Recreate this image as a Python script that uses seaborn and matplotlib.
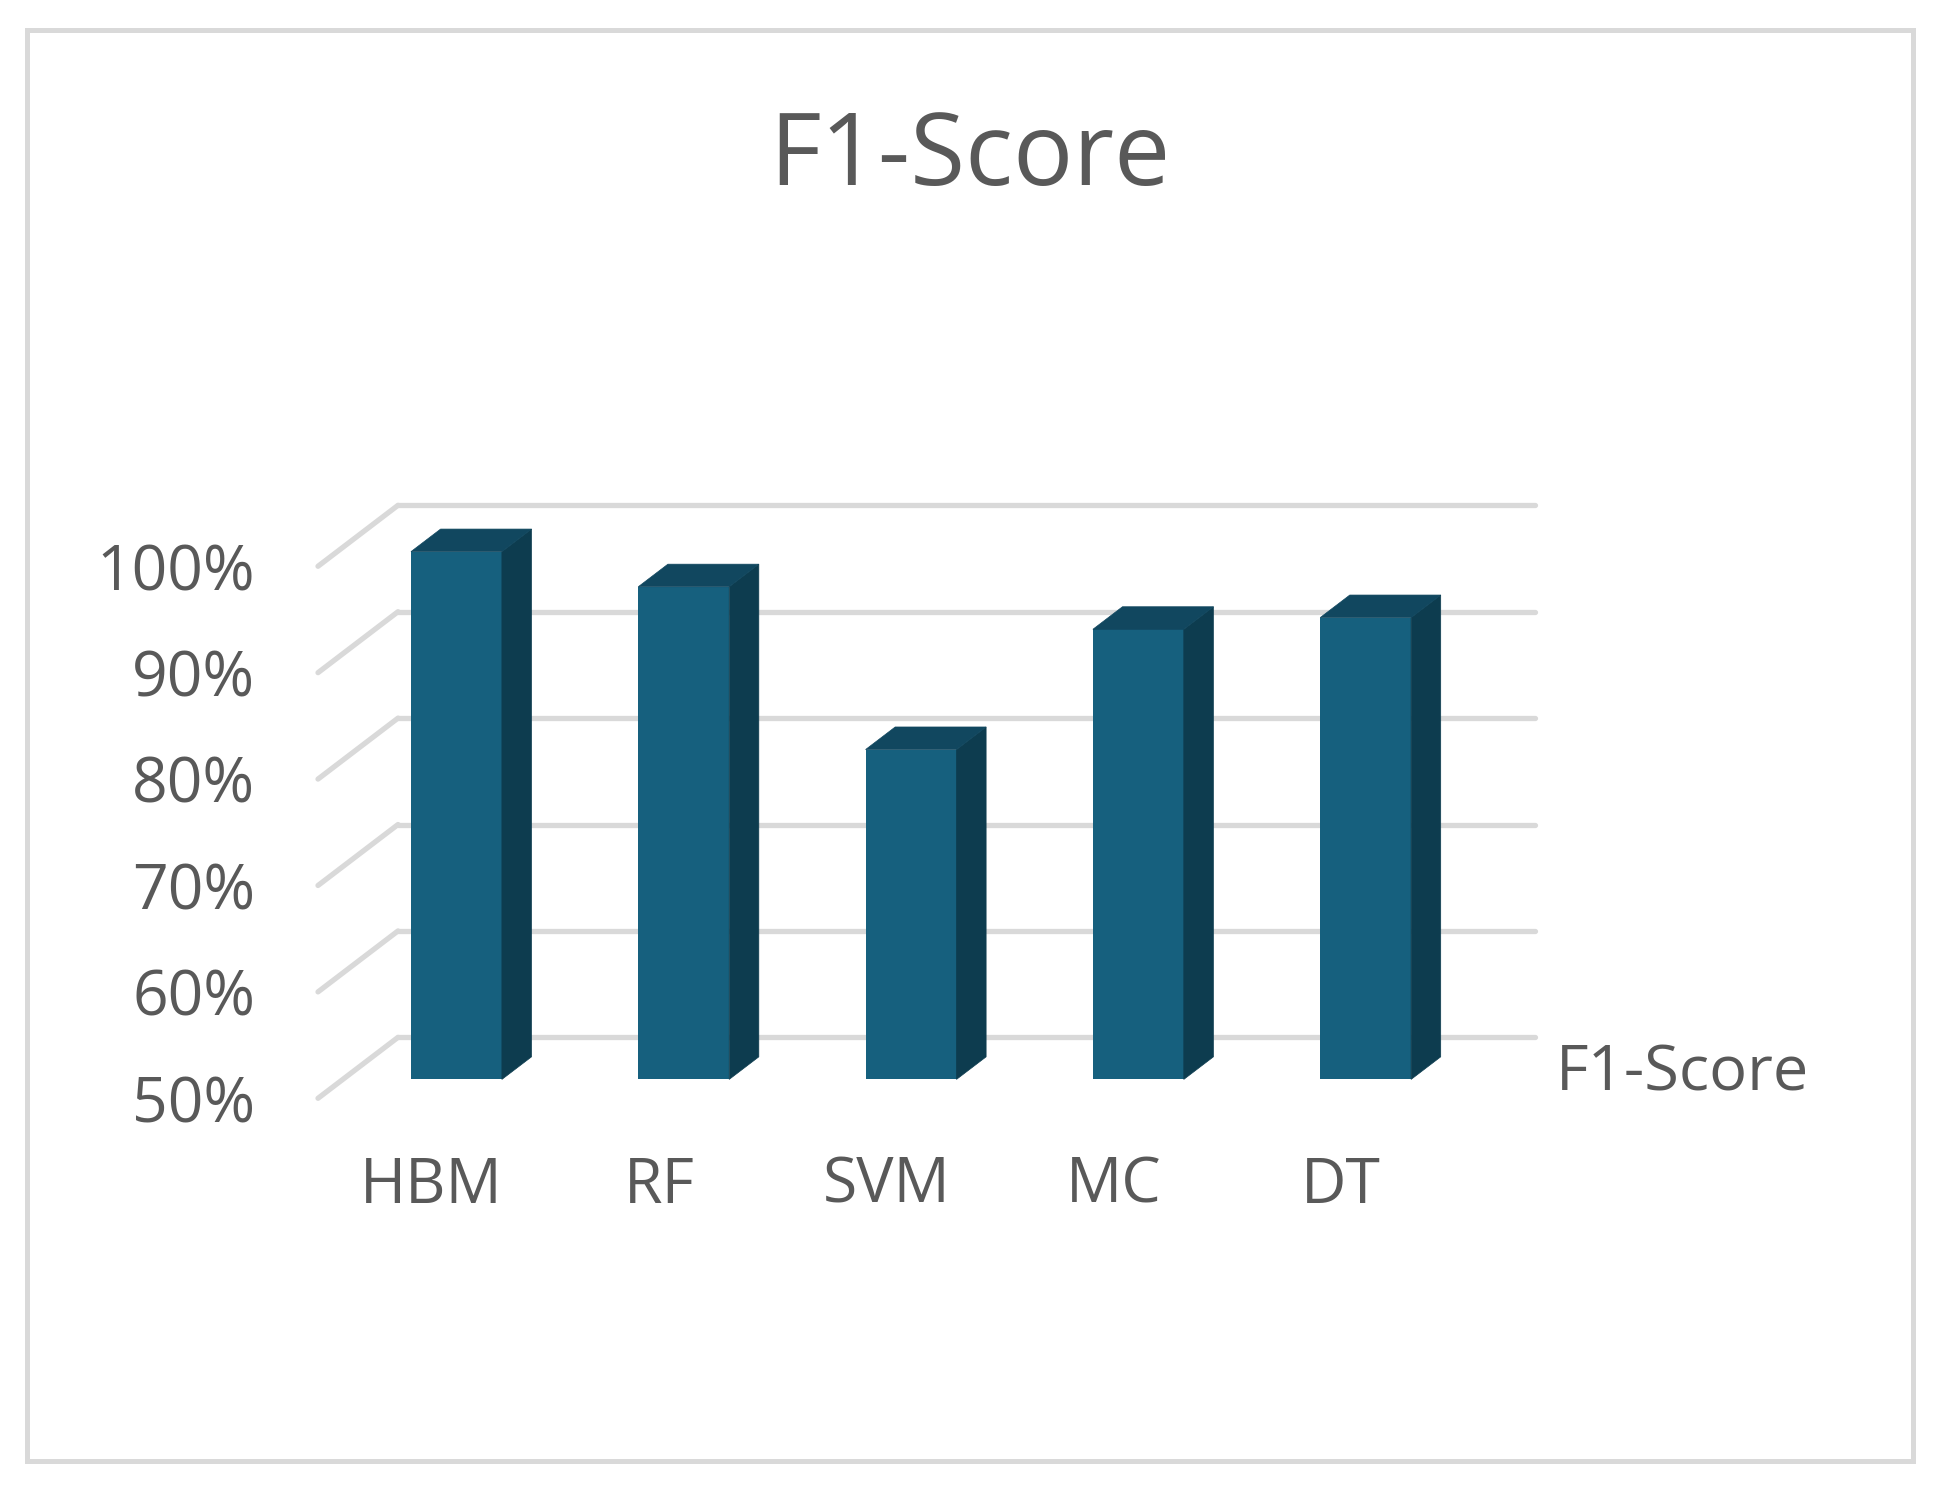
import pandas as pd
import seaborn as sns
import matplotlib.pyplot as plt
from matplotlib.patches import Polygon, Rectangle

# data
models = ["HBM", "RF", "SVM", "MC", "DT"]
f1_scores = [99.6, 96.3, 81.0, 92.3, 93.4]
y_ticks = [50, 60, 70, 80, 90, 100]
y_tick_labels = ["50%", "60%", "70%", "80%", "90%", "100%"]
title = "F1-Score"
series_name = "F1-Score"

# colours / 3d look
front_col = "#16607E"
top_col = "#11475F"
side_col = "#0D3C4F"
grid_col = "#D9D9D9"
text_col = "#595959"

# depth of the fake 3d box (category units, percent units)
depth_dx = 0.352
depth_dy = 5.73
t_front, t_back = 0.31, 0.68

sns.set_theme(style="white")
plt.rcParams["font.family"] = ["Open Sans", "DejaVu Sans"]

df = pd.DataFrame({"model": models, "f1": f1_scores})

fig = plt.figure(figsize=(19.4, 14.92), dpi=100)
ax = fig.add_axes([318 / 1940, 1 - 1098.3 / 1492, 1216.5 / 1940, 593 / 1492])

sns.barplot(data=df, x="model", y="f1", width=0.4, color=front_col,
            saturation=1, ax=ax, zorder=3)

# gridlines: back wall + floor diagonals on the left
x_left = -0.5
x_right = len(models) - 0.5
for v in y_ticks:
    ax.plot([x_left + depth_dx, x_right + depth_dx], [v + depth_dy, v + depth_dy],
            color=grid_col, lw=3.8, solid_capstyle="round", zorder=1, clip_on=False)
    ax.plot([x_left, x_left + depth_dx], [v, v + depth_dy],
            color=grid_col, lw=3.8, solid_capstyle="round", zorder=1, clip_on=False)

# push bars back into the box and add top / side faces
ddx = (t_back - t_front) * depth_dx
ddy = (t_back - t_front) * depth_dy
for p, val in zip(ax.patches, f1_scores):
    x0 = p.get_x() + t_front * depth_dx
    w = p.get_width()
    bottom = y_ticks[0] + t_front * depth_dy
    top = val + t_front * depth_dy
    p.set_x(x0)
    p.set_y(bottom)
    p.set_height(top - bottom)
    p.set_edgecolor("none")
    side = Polygon([(x0 + w, bottom), (x0 + w + ddx, bottom + ddy),
                    (x0 + w + ddx, top + ddy), (x0 + w, top)],
                   closed=True, facecolor=side_col, edgecolor=side_col, lw=0.5, zorder=3)
    cap = Polygon([(x0, top), (x0 + ddx, top + ddy),
                   (x0 + w + ddx, top + ddy), (x0 + w, top)],
                  closed=True, facecolor=top_col, edgecolor=top_col, lw=0.5, zorder=3)
    ax.add_patch(side)
    ax.add_patch(cap)

ax.set_xlim(x_left, x_right + depth_dx)
ax.set_ylim(y_ticks[0], y_ticks[-1] + depth_dy)
ax.set_yticks(y_ticks)
ax.set_yticklabels(y_tick_labels)
ax.set_xlabel("")
ax.set_ylabel("")
ax.tick_params(axis="y", length=0, pad=45, labelsize=45, labelcolor=text_col)
ax.tick_params(axis="x", length=0, pad=41, labelsize=45, labelcolor=text_col)
for s in ax.spines.values():
    s.set_visible(False)
ax.set_facecolor("none")

# series name along the depth axis
ax.text(x_right + depth_dx + 0.095, y_ticks[0] + 0.39 * depth_dy, series_name,
        ha="left", va="center", fontsize=45.5, color=text_col, clip_on=False)

fig.text(0.5, 1 - 159 / 1492, title, ha="center", va="center",
         fontsize=72, color=text_col)

# chart border
fig.add_artist(Rectangle((27.5 / 1940, 1 - 1460.5 / 1492), (1913.5 - 27.5) / 1940,
                         (1460.5 - 29.5) / 1492, transform=fig.transFigure,
                         fill=False, edgecolor=grid_col, lw=3.6))

fig.savefig("out.png", dpi=100, facecolor="white")
